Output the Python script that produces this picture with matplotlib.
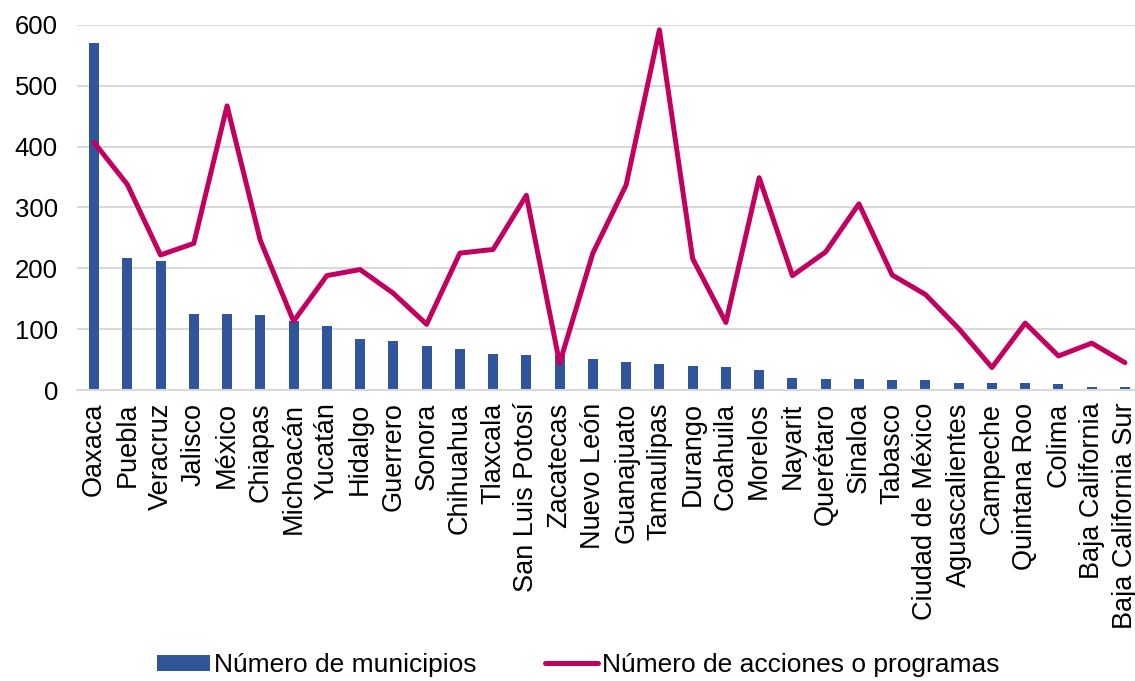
import matplotlib
matplotlib.use("Agg")
import matplotlib.pyplot as plt
import numpy as np

plt.rcParams["font.family"] = ["Liberation Sans", "DejaVu Sans"]

estados = [
    "Oaxaca", "Puebla", "Veracruz", "Jalisco", "México", "Chiapas",
    "Michoacán", "Yucatán", "Hidalgo", "Guerrero", "Sonora", "Chihuahua",
    "Tlaxcala", "San Luis Potosí", "Zacatecas", "Nuevo León", "Guanajuato",
    "Tamaulipas", "Durango", "Coahuila", "Morelos", "Nayarit", "Querétaro",
    "Sinaloa", "Tabasco", "Ciudad de México", "Aguascalientes", "Campeche",
    "Quintana Roo", "Colima", "Baja California", "Baja California Sur",
]
municipios = [570, 217, 212, 125, 125, 123, 113, 106, 84, 81, 72, 67, 60, 58,
              58, 51, 46, 43, 39, 38, 33, 20, 18, 18, 17, 16, 11, 11, 11, 10, 5, 5]
acciones = [407, 338, 222, 241, 467, 246, 113, 188, 198, 159, 108, 225, 231,
            320, 44, 225, 337, 592, 216, 111, 349, 188, 227, 306, 189, 157,
            101, 37, 110, 56, 77, 45]

azul = "#31559A"
magenta = "#C2005F"

fig = plt.figure(figsize=(11.35, 6.81), dpi=100)
# el área de trazado sigue más allá del borde derecho, como en el original
ax = fig.add_axes([77.4 / 1135, 1 - 390 / 681, 1064.2 / 1135, 365 / 681])

x = np.arange(len(estados))
barras = ax.bar(x, municipios, width=0.3, color=azul,
                label="Número de municipios", zorder=2)
linea, = ax.plot(x, acciones, color=magenta, lw=3.6, solid_joinstyle="round",
                 solid_capstyle="round",
                 label="Número de acciones o programas", zorder=3)

ax.set_xlim(-0.5, len(estados) - 0.5)
ax.set_ylim(0, 600)
ax.set_yticks(range(0, 601, 100))
ax.yaxis.grid(True, color="#D9D9D9", lw=1.5, zorder=0)
ax.set_axisbelow(True)
for s in ["top", "right", "left"]:
    ax.spines[s].set_visible(False)
ax.spines["bottom"].set_color("#D9D9D9")
ax.spines["bottom"].set_linewidth(1.5)
ax.tick_params(axis="y", length=0, labelsize=18.5, colors="black", pad=14)
ax.set_xticks(x)
ax.set_xticklabels(estados, rotation=90, ha="center", va="top", fontsize=19.5)
ax.tick_params(axis="x", length=0, pad=9)

fig.legend([barras, linea], ["Número de municipios", "Número de acciones o programas"],
           loc="center", bbox_to_anchor=(578.5 / 1135, 1 - 665 / 681), ncol=2,
           frameon=False, fontsize=19, handlelength=2.0, handleheight=0.55,
           handletextpad=0.15, columnspacing=2.6)

fig.savefig("out.png", dpi=100)
